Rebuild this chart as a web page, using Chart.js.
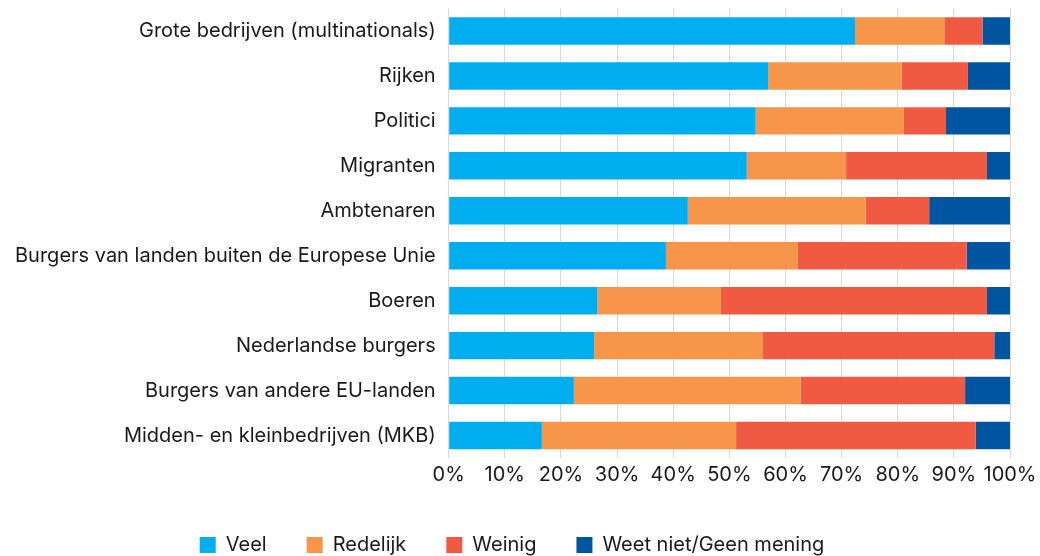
<!DOCTYPE html>
<html>
<head>
<meta charset="utf-8">
<script src="https://cdn.jsdelivr.net/npm/chart.js@4"></script>
<style>
  html, body { margin: 0; padding: 0; background: #fff; }
  #wrap { width: 1040px; height: 556px; }
</style>
</head>
<body>
<div id="wrap"><canvas id="chart" width="1040" height="556"></canvas></div>
<script>
const categories = [
    'Grote bedrijven (multinationals)',
    'Rijken',
    'Politici',
    'Migranten',
    'Ambtenaren',
    'Burgers van landen buiten de Europese Unie',
    'Boeren',
    'Nederlandse burgers',
    'Burgers van andere EU-landen',
    'Midden- en kleinbedrijven (MKB)'
];
const veel      = [72.4, 56.9, 54.7, 53.1, 42.6, 38.7, 26.5, 25.9, 22.3, 16.6];
const redelijk  = [15.9, 23.8, 26.4, 17.7, 31.7, 23.5, 22.0, 30.1, 40.4, 34.6];
const weinig    = [6.8, 11.8, 7.5, 25.1, 11.3, 30.1, 47.4, 41.2, 29.3, 42.7];
const weetNiet  = [4.9, 7.5, 11.4, 4.1, 14.4, 7.7, 4.1, 2.8, 8.0, 6.1];
const xTicks = [0, 10, 20, 30, 40, 50, 60, 70, 80, 90, 100];

const font = 'Inter, "Noto Sans", sans-serif';
const textColor = '#1a1a1a';

const ctx = document.getElementById('chart').getContext('2d');
const chart = new Chart(ctx, {
    type: 'bar',
    data: {
        labels: categories,
        datasets: [
            { label: 'Veel', data: veel, backgroundColor: '#00aeef' },
            { label: 'Redelijk', data: redelijk, backgroundColor: '#f7964a' },
            { label: 'Weinig', data: weinig, backgroundColor: '#f05a42' },
            { label: 'Weet niet/Geen mening', data: weetNiet, backgroundColor: '#0055a1' }
        ]
    },
    options: {
        indexAxis: 'y',
        responsive: false,
        animation: false,
        layout: { padding: { left: 10, right: 26, top: 0, bottom: -9 } },
        datasets: {
            bar: { categoryPercentage: 0.61, barPercentage: 1.0, borderWidth: 0 }
        },
        scales: {
            x: {
                stacked: true,
                min: 0,
                max: 100,
                afterBuildTicks: (axis) => { axis.ticks = xTicks.map(v => ({ value: v })); },
                afterFit: (s) => { s.height += 3; s.paddingRight = 30; },
                grid: { color: '#d9d9d9', lineWidth: 1, drawTicks: false },
                border: { display: false },
                ticks: {
                    padding: 5,
                    maxRotation: 0,
                    minRotation: 0,
                    autoSkip: false,
                    color: textColor,
                    font: { family: font, size: 20 },
                    callback: (v) => v + '%'
                }
            },
            y: {
                stacked: true,
                grid: { display: false },
                border: { display: false },
                afterFit: (s) => { s.paddingTop = 8.5; s.paddingBottom = 0; },
                ticks: {
                    padding: 5,
                    color: textColor,
                    font: { family: font, size: 20 }
                }
            }
        },
        plugins: {
            tooltip: { enabled: false },
            legend: {
                position: 'bottom',
                labels: {
                    color: textColor,
                    font: { family: font, size: 20 },
                    boxWidth: 16,
                    boxHeight: 16,
                    padding: 40,
                    useBorderRadius: false
                }
            }
        }
    }
});
</script>
</body>
</html>
